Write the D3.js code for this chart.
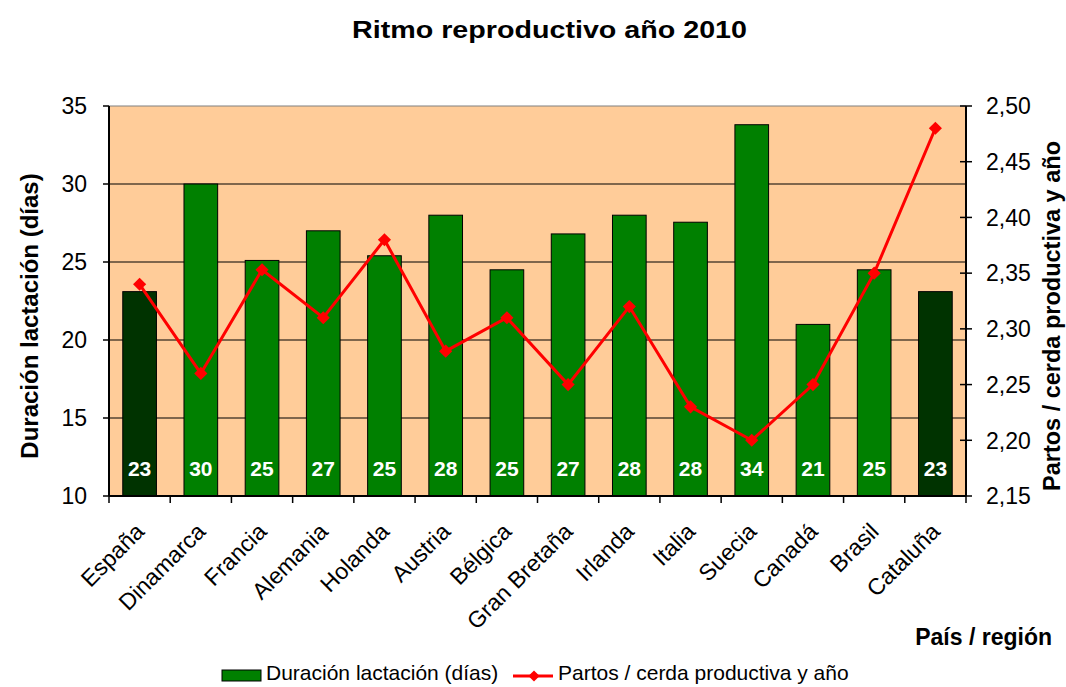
<!DOCTYPE html>
<html>
<head>
<meta charset="utf-8">
<script src="https://cdn.jsdelivr.net/npm/d3@7"></script>
<style>
  body { margin: 0; background: #fff; }
  text { font-family: "Liberation Sans", Arial, sans-serif; }
</style>
</head>
<body>
<svg id="chart" width="1066" height="687"></svg>
<script>
// data
var paises = ["España", "Dinamarca", "Francia", "Alemania", "Holanda", "Austria", "Bélgica",
              "Gran Bretaña", "Irlanda", "Italia", "Suecia", "Canadá", "Brasil", "Cataluña"];
var lactacion = [23.1, 30.0, 25.1, 27.0, 25.4, 28.0, 24.5, 26.8, 28.0, 27.55, 33.8, 21.0, 24.5, 23.1];
var etiquetas = ["23", "30", "25", "27", "25", "28", "25", "27", "28", "28", "34", "21", "25", "23"];
var partos = [2.34, 2.26, 2.353, 2.31, 2.38, 2.28, 2.31, 2.25, 2.32, 2.23, 2.20, 2.25, 2.35, 2.48];
var destacados = ["España", "Cataluña"];
var leftTicks = [10, 15, 20, 25, 30, 35];
var rightTicks = [2.15, 2.20, 2.25, 2.30, 2.35, 2.40, 2.45, 2.50];

var svg = d3.select("#chart"),
    margin = {top: 106, right: 100, bottom: 191, left: 109},
    width = +svg.attr("width") - margin.left - margin.right,
    height = +svg.attr("height") - margin.top - margin.bottom;

var x = d3.scaleBand().domain(paises).range([0, width]).paddingInner(0.45).paddingOuter(0.225);
var xb = d3.scaleLinear().domain([0, paises.length]).range([0, width]); // category boundaries
var y = d3.scaleLinear().domain([10, 35]).range([height, 0]);
var y2 = d3.scaleLinear().domain([2.15, 2.50]).range([height, 0]);
var fmt = function(d) { return d3.format(".2f")(d).replace(".", ","); };
var cx = function(d) { return x(d) + x.bandwidth() / 2; };

// title (the original font is wide, so stretch it)
svg.append("text")
  .attr("x", 352).attr("y", 38)
  .attr("font-size", "23px").attr("font-weight", "bold")
  .attr("textLength", 395).attr("lengthAdjust", "spacingAndGlyphs")
  .text("Ritmo reproductivo año 2010");

var g = svg.append("g")
  .attr("transform", "translate(" + margin.left + "," + margin.top + ")");

// plot area
g.append("rect")
  .attr("width", width).attr("height", height)
  .attr("fill", "#FFCC99");

// gridlines
g.selectAll(".grid")
  .data(leftTicks.slice(1))
  .enter().append("line")
    .attr("x1", 0).attr("x2", width)
    .attr("y1", function(d) { return y(d); })
    .attr("y2", function(d) { return y(d); })
    .attr("stroke", function(d) { return d == 35 ? "#808080" : "#000"; })
    .attr("stroke-width", 1.2);

// bars
g.selectAll(".bar")
  .data(paises)
  .enter().append("rect")
    .attr("x", function(d) { return x(d); })
    .attr("y", function(d, i) { return y(lactacion[i]); })
    .attr("width", x.bandwidth())
    .attr("height", function(d, i) { return height - y(lactacion[i]); })
    .attr("fill", function(d) { return destacados.indexOf(d) != -1 ? "#003300" : "#008000"; })
    .attr("stroke", "#000")
    .attr("stroke-width", 1);

// value labels
g.selectAll(".lbl")
  .data(paises)
  .enter().append("text")
    .attr("x", cx)
    .attr("y", height - 20)
    .attr("text-anchor", "middle")
    .attr("font-size", "21px").attr("font-weight", "bold")
    .attr("fill", "#fff")
    .text(function(d, i) { return etiquetas[i]; });

// line
var line = d3.line()
  .x(function(d, i) { return cx(paises[i]); })
  .y(function(d) { return y2(d); });

g.append("path")
  .datum(partos)
  .attr("d", line)
  .attr("fill", "none")
  .attr("stroke", "#FF0000")
  .attr("stroke-width", 3);

var diamond = d3.symbol().type(d3.symbolDiamond2).size(110);
g.selectAll(".pt")
  .data(partos)
  .enter().append("path")
    .attr("d", diamond)
    .attr("transform", function(d, i) {
      return "translate(" + cx(paises[i]) + "," + y2(d) + ")";
    })
    .attr("fill", "#FF0000");

// left axis
var la = g.append("g");
la.append("line").attr("x1", 0).attr("x2", 0).attr("y1", 0).attr("y2", height)
  .attr("stroke", "#000").attr("stroke-width", 2);
la.selectAll(".t").data(leftTicks).enter().append("line")
  .attr("x1", -6).attr("x2", 0)
  .attr("y1", function(d) { return y(d); }).attr("y2", function(d) { return y(d); })
  .attr("stroke", "#000").attr("stroke-width", 1.5);
la.selectAll(".tl").data(leftTicks).enter().append("text")
  .attr("x", -22).attr("y", function(d) { return y(d); })
  .attr("dy", "0.36em").attr("text-anchor", "end")
  .attr("font-size", "23px")
  .text(function(d) { return d; });

// right axis
var ra = g.append("g").attr("transform", "translate(" + width + ",0)");
ra.append("line").attr("x1", 0).attr("x2", 0).attr("y1", 0).attr("y2", height)
  .attr("stroke", "#000").attr("stroke-width", 2);
ra.selectAll(".t").data(rightTicks).enter().append("line")
  .attr("x1", -6).attr("x2", 6)
  .attr("y1", function(d) { return y2(d); }).attr("y2", function(d) { return y2(d); })
  .attr("stroke", "#000").attr("stroke-width", 1.5);
ra.selectAll(".tl").data(rightTicks).enter().append("text")
  .attr("x", 20).attr("y", function(d) { return y2(d); })
  .attr("dy", "0.36em").attr("text-anchor", "start")
  .attr("font-size", "23px")
  .text(fmt);

// bottom axis
var ba = g.append("g").attr("transform", "translate(0," + height + ")");
ba.append("line").attr("x1", 0).attr("x2", width)
  .attr("stroke", "#000").attr("stroke-width", 2);
ba.selectAll(".t").data(d3.range(paises.length + 1)).enter().append("line")
  .attr("x1", function(d) { return xb(d); }).attr("x2", function(d) { return xb(d); })
  .attr("y1", 0).attr("y2", 7)
  .attr("stroke", "#000").attr("stroke-width", 1.5);
ba.selectAll(".tl").data(paises).enter().append("text")
  .attr("transform", function(d) {
    return "translate(" + (cx(d) + 6) + ",37) rotate(-45)";
  })
  .attr("text-anchor", "end")
  .attr("font-size", "23px")
  .text(function(d) { return d; });

// axis titles
svg.append("text")
  .attr("transform", "translate(38,316) rotate(-90)")
  .attr("text-anchor", "middle")
  .attr("font-size", "24px").attr("font-weight", "bold")
  .text("Duración lactación (días)");

svg.append("text")
  .attr("transform", "translate(1060,316) rotate(-90)")
  .attr("text-anchor", "middle")
  .attr("font-size", "23.5px").attr("font-weight", "bold")
  .text("Partos / cerda productiva y año");

svg.append("text")
  .attr("x", 1052).attr("y", 645)
  .attr("text-anchor", "end")
  .attr("font-size", "23px").attr("font-weight", "bold")
  .text("País / región");

// legend
var lg = svg.append("g").attr("transform", "translate(222,676)");
lg.append("rect").attr("x", 0).attr("y", -6).attr("width", 39).attr("height", 11)
  .attr("fill", "#008000").attr("stroke", "#000").attr("stroke-width", 1);
lg.append("text").attr("x", 44).attr("y", 4)
  .attr("font-size", "21px").text("Duración lactación (días)");
lg.append("line").attr("x1", 291).attr("x2", 331).attr("y1", 0).attr("y2", 0)
  .attr("stroke", "#FF0000").attr("stroke-width", 3);
lg.append("path").attr("d", d3.symbol().type(d3.symbolDiamond2).size(80))
  .attr("transform", "translate(312,0)")
  .attr("fill", "#FF0000");
lg.append("text").attr("x", 336).attr("y", 4)
  .attr("font-size", "21px").text("Partos / cerda productiva y año");
</script>
</body>
</html>
